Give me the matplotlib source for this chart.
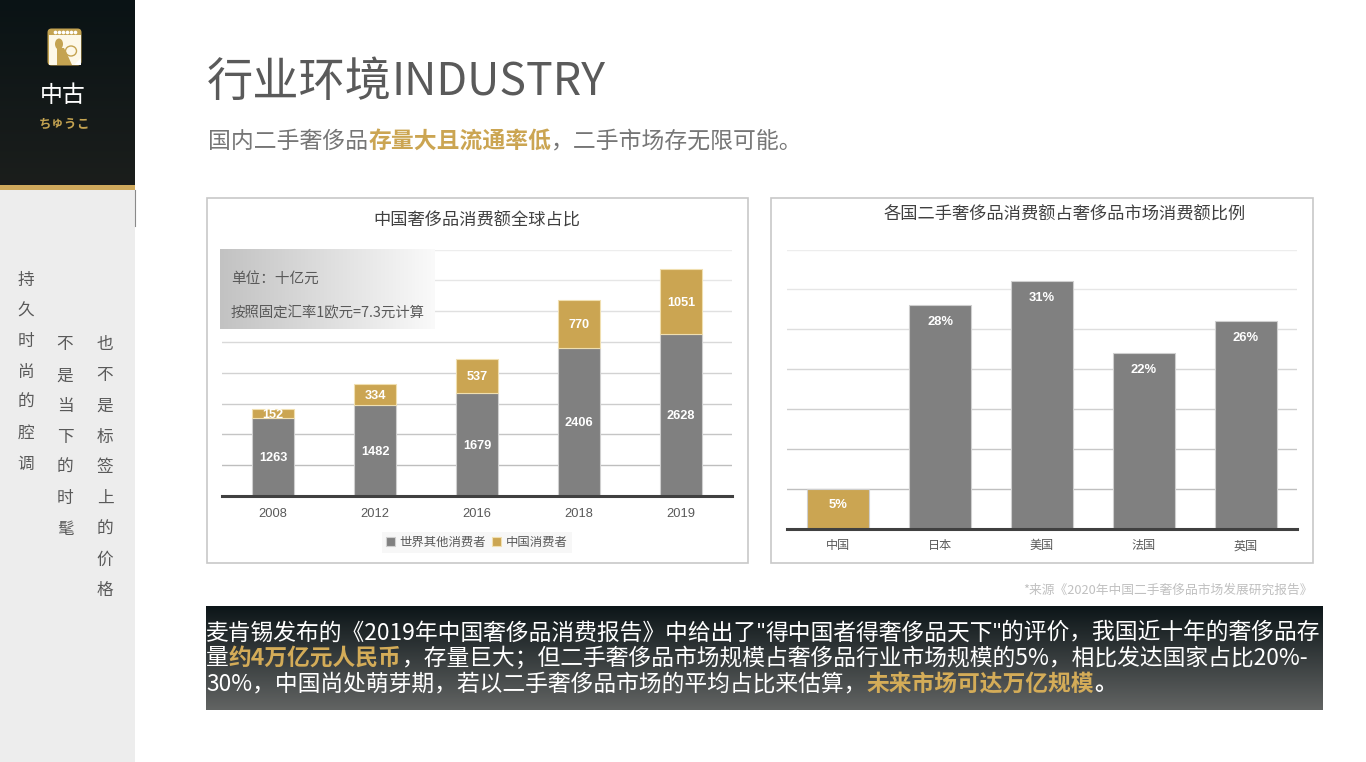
import matplotlib
matplotlib.use('Agg')
import matplotlib.pyplot as plt
from matplotlib.patches import Rectangle, FancyBboxPatch, Ellipse, Polygon
import numpy as np

plt.rcParams['font.family'] = ['Noto Sans CJK SC', 'DejaVu Sans']

# data of the left chart
years = ['2008', '2012', '2016', '2018', '2019']
world_rest = [1263, 1482, 1679, 2406, 2628]
china = [152, 334, 537, 770, 1051]

# data of the right chart
countries = ['中国', '日本', '美国', '法国', '英国']
second_hand = [5, 28, 31, 22, 26]
second_hand_colors = ['#cba552', '#808080', '#808080', '#808080', '#808080']

GOLD = '#cba552'
GREY = '#808080'
TEXT = '#595959'
W, H = 1366, 762

side_cols = [(26, 280, '持久时尚的腔调'), (65, 345, '不是当下的时髦'), (105, 345, '也不是标签上的价格')]
body_lines = [
    [('麦肯锡发布的《2019年中国奢侈品消费报告》中给出了', 'w'), ('"', 'q'), ('得中国者得奢侈品天下', 'w'), ('"', 'q'), ('的评价，我国近十年的奢侈品存', 'w')],
    [('量', 'w'), ('约4万亿元人民币', 'g'), ('，存量巨大；但二手奢侈品市场规模占奢侈品行业市场规模的5%，相比发达国家占比20%-', 'w')],
    [('30%，中国尚处萌芽期，若以二手奢侈品市场的平均占比来估算，', 'w'), ('未来市场可达万亿规模', 'g'), ('。', 'b')],
]

fig = plt.figure(figsize=(W / 100, H / 100), dpi=100, facecolor='white')


def px_axes(x0, y0, x1, y1, z):
    return fig.add_axes([x0 / W, 1 - y1 / H, (x1 - x0) / W, (y1 - y0) / H], zorder=z)


# page layer in pixel coordinates
bg = px_axes(0, 0, W, H, 0)
bg.set_xlim(0, W)
bg.set_ylim(H, 0)
bg.axis('off')

# top layer for the box that sits over the gridlines
top = px_axes(0, 0, W, H, 5)
top.patch.set_alpha(0)
top.axis('off')


def gradient(ax, x0, y0, x1, y1, c0, c1, horizontal=False):
    c0 = np.array(matplotlib.colors.to_rgb(c0))
    c1 = np.array(matplotlib.colors.to_rgb(c1))
    t = np.linspace(0, 1, 256)
    img = c0[None, :] * (1 - t[:, None]) + c1[None, :] * t[:, None]
    img = img[None, :, :] if horizontal else img[:, None, :]
    ax.imshow(img, extent=[x0, x1, y1, y0], aspect='auto', interpolation='bilinear')
    ax.set_xlim(0, W)
    ax.set_ylim(H, 0)


def segments(ax, x, y, parts, size, colors):
    r = fig.canvas.get_renderer()
    for s, c in parts:
        kw = {}
        if c in ('g', 'b'):
            kw['fontweight'] = 'bold'
        if c == 'q':
            kw['family'] = 'Liberation Sans'
        t = ax.text(x, y, s, fontsize=size, color=colors[c], va='center', ha='left', **kw)
        x = x + t.get_window_extent(r).width


# sidebar
gradient(bg, 0, 0, 135, 185, '#0a1315', '#1b1e1c')
bg.add_patch(Rectangle((0, 185), 135, 5, fc='#cfa95c', ec='none'))
bg.add_patch(Rectangle((0, 190), 135, 572, fc='#ededed', ec='none'))
bg.plot([134.5, 134.5], [190, 226], color='#8a8a8a', lw=0.8)

# logo
LOGO = '#c4a351'
bg.add_patch(FancyBboxPatch((47.5, 28.5), 34, 37, boxstyle='round,pad=0,rounding_size=4', fc=LOGO, ec='none'))
bg.add_patch(Rectangle((48.5, 35), 32, 29.5, fc='#fdf8e8', ec='none'))
bg.scatter([55, 59, 63, 67, 71, 75], [31.8] * 6, s=7, c='white', linewidths=0)
bg.add_patch(Ellipse((59, 44), 8, 11, fc=LOGO, ec='none'))
bg.add_patch(Polygon([(57, 48), (64, 48), (68, 56), (72, 65), (57, 65)], fc=LOGO, ec='none'))
bg.add_patch(Ellipse((71, 51), 11, 10, fc='none', ec=LOGO, lw=1))
bg.add_patch(Polygon([(74, 65), (81, 58), (81, 65)], fc='white', ec='none'))

bg.text(63, 96, '中古', color='white', fontsize=16.5, ha='center', va='center')
for i, ch in enumerate('ちゅうこ'):
    bg.text(44.5 + i * 12.5, 124, ch, color=LOGO, fontsize=9, fontweight='bold', ha='center', va='center')

for x, y, s in side_cols:
    for i, ch in enumerate(s):
        bg.text(x, y + i * 30.7, ch, color=TEXT, fontsize=12, ha='center', va='center')

# headline
bg.text(207, 83, '行业环境', color='#5a5a5a', fontsize=33.3, va='center')
bg.text(391, 83, 'INDUSTRY', color='#5a5a5a', fontsize=32.2, va='center')
segments(bg, 208, 141, [('国内二手奢侈品', 't'), ('存量大且流通率低', 'g'), ('，二手市场存无限可能。', 't')],
         16.45, {'t': '#767676', 'g': GOLD})

# chart frames
for x0, x1 in [(206.5, 748), (771, 1313)]:
    bg.add_patch(Rectangle((x0, 197.5), x1 - x0, 365, fc='white', ec='#c8c8c8', lw=1.2))

bg.text(477, 221, '中国奢侈品消费额全球占比', color='#404040', fontsize=12.4, ha='center', va='center')
bg.text(1065, 215, '各国二手奢侈品消费额占奢侈品市场消费额比例', color='#404040', fontsize=12.4, ha='center', va='center')
bg.text(1313, 590, '*来源《2020年中国二手奢侈品市场发展研究报告》', color='#c0c0c0', fontsize=9.2, ha='right', va='center')

# left chart
ax1 = px_axes(222, 249.5, 732, 496, 2)
ax1.patch.set_alpha(0)
x1 = np.arange(len(years))
ax1.bar(x1, world_rest, width=0.41, color=GREY, edgecolor='#cfcfcf', linewidth=0.8, label='世界其他消费者', zorder=3)
ax1.bar(x1, china, width=0.41, bottom=world_rest, color=GOLD, edgecolor='#f0dfb0', linewidth=0.8, label='中国消费者', zorder=3)
for xi, a, b in zip(x1, world_rest, china):
    for v, mid in [(a, a / 2), (b, a + b / 2)]:
        ax1.annotate(str(v), (xi, mid), xytext=(0, -1), textcoords='offset points', ha='center', va='center',
                     color='white', fontsize=9.2, fontweight='bold', family='Liberation Sans', zorder=4)
ax1.set_xlim(-0.5, 4.5)
ax1.set_ylim(0, 4000)
ax1.set_yticks(range(0, 4001, 500))
ax1.set_xticks(x1, years, fontsize=9.3, color=TEXT, family='Liberation Sans')
ax1.legend(loc='center', bbox_to_anchor=(0.5, -0.188), ncol=2, frameon=True, fontsize=8.9,
           facecolor='#f7f7f7', edgecolor='none', framealpha=1, handlelength=0.7, handleheight=0.7,
           handletextpad=0.4, columnspacing=0.5, borderpad=0.3, labelcolor=TEXT, fancybox=False)

# right chart
ax2 = px_axes(787, 249.5, 1297, 528.5, 2)
ax2.patch.set_alpha(0)
x2 = np.arange(len(countries))
ax2.bar(x2, second_hand, width=0.61, color=second_hand_colors, edgecolor='#cfcfcf', linewidth=0.8, zorder=3)
for xi, v in zip(x2, second_hand):
    ax2.annotate(f'{v}%', (xi, v), xytext=(0, -12), textcoords='offset points', ha='center', va='center',
                 color='white', fontsize=9.4, fontweight='bold', family='Liberation Sans', zorder=4)
ax2.set_xlim(-0.5, 4.5)
ax2.set_ylim(0, 35)
ax2.set_yticks(range(0, 36, 5))
ax2.set_xticks(x2, countries, fontsize=8.7, color=TEXT)

for ax, pad in [(ax1, 8.5), (ax2, 7.8)]:
    ax.grid(axis='y', lw=1, zorder=0)
    # gridlines get darker towards the baseline
    lines = ax.get_ygridlines()
    for g, shade in zip(lines, np.linspace(0.72, 0.93, len(lines))):
        g.set_color(str(shade))
    for side in ['top', 'left', 'right']:
        ax.spines[side].set_visible(False)
    ax.spines['bottom'].set_color('#404040')
    ax.spines['bottom'].set_linewidth(2.2)
    ax.spines['bottom'].set_zorder(5)
    ax.tick_params(axis='both', length=0, pad=pad)
    ax.tick_params(axis='y', labelleft=False)

# unit box
gradient(top, 220, 249, 435, 329, '#c2c2c2', '#fafafa', horizontal=True)
top.text(231, 278.5, '单位：十亿元', color=TEXT, fontsize=10.5, va='center')
top.text(231, 313.5, '按照固定汇率1欧元=7.3元计算', color=TEXT, fontsize=10.4, va='center')

# text band at the bottom
gradient(bg, 206, 606, 1323, 710, '#0c1518', '#626463')
for (parts, y) in zip(body_lines, [633, 658, 684]):
    segments(bg, 206, y, parts, 16.4, {'w': 'white', 'g': '#d4ac58', 'q': 'white', 'b': 'white'})

fig.savefig('out.png', dpi=100)
